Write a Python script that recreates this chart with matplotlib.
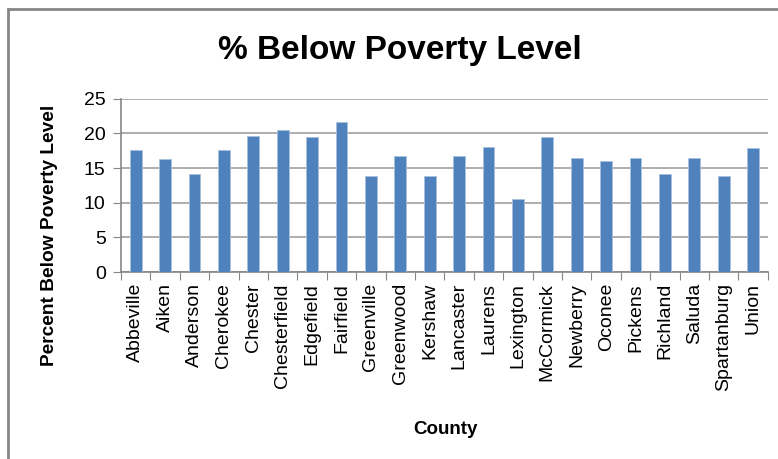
import matplotlib
matplotlib.use('Agg')
import matplotlib.pyplot as plt
from matplotlib.patches import Rectangle

counties = ['Abbeville', 'Aiken', 'Anderson', 'Cherokee', 'Chester', 'Chesterfield',
            'Edgefield', 'Fairfield', 'Greenville', 'Greenwood', 'Kershaw', 'Lancaster',
            'Laurens', 'Lexington', 'McCormick', 'Newberry', 'Oconee', 'Pickens',
            'Richland', 'Saluda', 'Spartanburg', 'Union']
poverty = [17.6, 16.3, 14.2, 17.6, 19.6, 20.5,
           19.5, 21.7, 13.8, 16.7, 13.8, 16.8,
           18.1, 10.6, 19.5, 16.4, 16.0, 16.4,
           14.2, 16.5, 13.9, 17.9]
yticks = [0, 5, 10, 15, 20, 25]

plt.rcParams['font.family'] = ['Liberation Sans', 'DejaVu Sans']

fig = plt.figure(figsize=(7.78, 4.59), dpi=100)

# outer chart border (cut off on the right and bottom in the source)
fig.patches.append(Rectangle((8 / 778, -0.1), 1.2, 1 - 9 / 459 + 0.1,
                             transform=fig.transFigure, fill=False,
                             edgecolor='#868686', linewidth=2))

ax = fig.add_axes([0.1555, 0.4074, 0.8315, 0.3776])
x = list(range(len(counties)))
ax.bar(x, poverty, width=0.4, color='#4F81BD', edgecolor='#A7BFDE', linewidth=0.6, zorder=3)

ax.set_xlim(-0.5, len(counties) - 0.5)
ax.set_ylim(0, 25)
ax.set_yticks(yticks)
ax.yaxis.grid(True, color='#A0A0A0', linewidth=1.2, zorder=0)

ax.set_xticks([i - 0.5 for i in range(len(counties) + 1)])
ax.set_xticklabels([])
ax.set_xticks(x, minor=True)
ax.set_xticklabels(counties, minor=True, rotation=90, fontsize=14)
ax.tick_params(axis='x', which='minor', length=0, pad=8)
ax.tick_params(axis='x', which='major', length=6, color='#868686', direction='out')
ax.tick_params(axis='y', length=6, color='#868686', labelsize=14, pad=5)

for s in ['top', 'right']:
    ax.spines[s].set_visible(False)
for s in ['left', 'bottom']:
    ax.spines[s].set_color('#868686')
    ax.spines[s].set_linewidth(1.2)

fig.text(50 / 778, 1 - 235 / 459, 'Percent Below Poverty Level', fontsize=13.8,
         fontweight='bold', rotation=90, ha='center', va='center')
fig.text(445 / 778, 1 - 430 / 459, 'County', fontsize=13.5, fontweight='bold',
         ha='center', va='center')
fig.text(400 / 778, 1 - 50 / 459, '% Below Poverty Level', fontsize=24, fontweight='bold',
         ha='center', va='center')

fig.savefig('out.png', dpi=100)
